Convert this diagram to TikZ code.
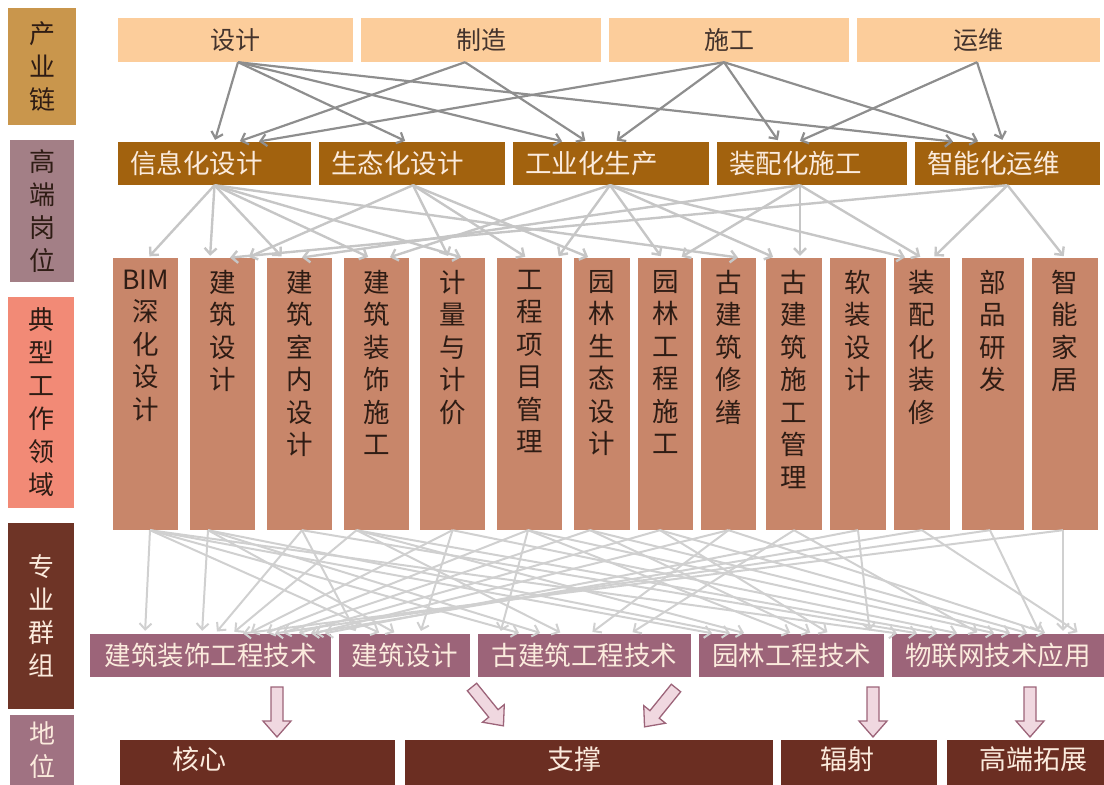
\documentclass[tikz,border=0pt]{standalone}
\usepackage{fontspec}
\newfontfamily\cjk{Noto Sans CJK SC}
\usetikzlibrary{positioning,arrows.meta}

\definecolor{peach}{HTML}{FCCD9B}
\definecolor{ochre}{HTML}{A2620E}
\definecolor{terra}{HTML}{C8866A}
\definecolor{mauve}{HTML}{9C6479}
\definecolor{maroon}{HTML}{6B2E22}
\definecolor{gold}{HTML}{C9964C}
\definecolor{greymauve}{HTML}{A37F86}
\definecolor{salmon}{HTML}{F28A76}
\definecolor{cocoa}{HTML}{6E3426}
\definecolor{lilac}{HTML}{A07282}
\definecolor{ink}{HTML}{2E1C14}
\definecolor{cream}{HTML}{FBEBDD}
\definecolor{pinkfill}{HTML}{F0D8E0}
\definecolor{darkline}{HTML}{8E8E8E}
\definecolor{paleline}{HTML}{C6C6C6}
\definecolor{faintline}{HTML}{D0D0D0}

\tikzset{
  sidebox/.style={fill=#1, inner sep=0pt, minimum width=66pt, align=center, text=ink, font=\cjk\fontsize{26}{33}\selectfont},
  chainbox/.style={fill=peach, minimum height=44pt, inner sep=0pt, text=ink!90, font=\cjk\fontsize{25}{28}\selectfont},
  postbox/.style={fill=ochre, minimum height=43pt, inner xsep=12pt, inner ysep=0pt, align=left, text=cream, font=\cjk\fontsize{26.5}{28}\selectfont},
  fieldbox/.style={fill=terra, minimum height=272pt, inner sep=0pt},
  fieldtext/.style={align=center, inner sep=0pt, text=ink, font=\cjk\fontsize{26.5}{32.5}\selectfont},
  groupbox/.style={fill=mauve, minimum height=43pt, inner sep=0pt, text=cream, font=\cjk\fontsize{26.5}{28}\selectfont},
  rankbox/.style={fill=maroon, minimum height=45pt, inner sep=0pt},
  ranktext/.style={inner sep=0pt, text=cream, font=\cjk\fontsize{27}{28}\selectfont},
  chainarrow/.style={draw=darkline, line width=2.2pt, shorten >=2pt, -{Straight Barb[length=6pt,width=12pt]}},
  postarrow/.style={draw=paleline, line width=2.4pt, shorten >=2pt, -{Straight Barb[length=6pt,width=12pt]}},
  fieldarrow/.style={draw=faintline, line width=2pt, shorten >=3pt, -{Straight Barb[length=6pt,width=12pt]}},
  blockarrow/.pic={\draw[fill=pinkfill, draw=mauve, line width=1.3pt] (-6,0) -- (-6,34) -- (-14,34) -- (0,50) -- (14,34) -- (6,34) -- (6,0) -- cycle;}
}

\begin{document}
\begin{tikzpicture}[x=1pt, y=-1pt]
    \useasboundingbox (0,0) rectangle (1104,785);

    \node[sidebox=gold, minimum width=68pt, minimum height=117pt] (s1) at (42,66.5) {产\\业\\链};
    \node[sidebox=greymauve, minimum width=64pt, minimum height=142pt] (s2) at (42,211) {高\\端\\岗\\位};
    \node[sidebox=salmon, minimum height=211pt] (s3) at (41,402.5) {典\\型\\工\\作\\领\\域};
    \node[sidebox=cocoa, minimum height=186pt, text=cream] (s4) at (41,616) {专\\业\\群\\组};
    \node[sidebox=lilac, minimum width=64pt, minimum height=70pt, text=cream] (s5) at (42,750) {地\\位};

    \node[chainbox, minimum width=235pt] (c1) at (235.5,40) {设计};
    \node[chainbox, minimum width=240pt] (c2) at (481,40) {制造};
    \node[chainbox, minimum width=240pt] (c3) at (729,40) {施工};
    \node[chainbox, minimum width=243pt] (c4) at (978.5,40) {运维};

    \node[postbox, text width=169pt] (h1) at (214.5,163.5) {信息化设计};
    \node[postbox, text width=162pt] (h2) at (412,163.5) {生态化设计};
    \node[postbox, text width=172pt] (h3) at (611,163.5) {工业化生产};
    \node[postbox, text width=166pt] (h4) at (812,163.5) {装配化施工};
    \node[postbox, text width=161pt] (h5) at (1007.5,163.5) {智能化运维};

    \node[fieldbox, minimum width=65pt] (f1) at (145.5,394) {};
    \node[fieldbox, minimum width=65pt] (f2) at (222.5,394) {};
    \node[fieldbox, minimum width=65pt] (f3) at (299.5,394) {};
    \node[fieldbox, minimum width=65pt] (f4) at (376.5,394) {};
    \node[fieldbox, minimum width=65pt] (f5) at (452.5,394) {};
    \node[fieldbox, minimum width=65pt] (f6) at (529.5,394) {};
    \node[fieldbox, minimum width=56pt] (f7) at (602,394) {};
    \node[fieldbox, minimum width=55pt] (f8) at (665.5,394) {};
    \node[fieldbox, minimum width=55pt] (f9) at (728.5,394) {};
    \node[fieldbox, minimum width=56pt] (f10) at (794,394) {};
    \node[fieldbox, minimum width=56pt] (f11) at (858,394) {};
    \node[fieldbox, minimum width=56pt] (f12) at (922,394) {};
    \node[fieldbox, minimum width=62pt] (f13) at (993,394) {};
    \node[fieldbox, minimum width=66pt] (f14) at (1065,394) {};

    \node[fieldtext, below=12pt of f1.north] (w1) {BIM\\深\\化\\设\\计};
    \node[fieldtext, below=12pt of f2.north] (w2) {建\\筑\\设\\计};
    \node[fieldtext, below=12pt of f3.north] (w3) {建\\筑\\室\\内\\设\\计};
    \node[fieldtext, below=12pt of f4.north] (w4) {建\\筑\\装\\饰\\施\\工};
    \node[fieldtext, below=12pt of f5.north] (w5) {计\\量\\与\\计\\价};
    \node[fieldtext, below=12pt of f6.north] (w6) {工\\程\\项\\目\\管\\理};
    \node[fieldtext, below=12pt of f7.north] (w7) {园\\林\\生\\态\\设\\计};
    \node[fieldtext, below=12pt of f8.north] (w8) {园\\林\\工\\程\\施\\工};
    \node[fieldtext, below=12pt of f9.north] (w9) {古\\建\\筑\\修\\缮};
    \node[fieldtext, below=12pt of f10.north] (w10) {古\\建\\筑\\施\\工\\管\\理};
    \node[fieldtext, below=12pt of f11.north] (w11) {软\\装\\设\\计};
    \node[fieldtext, below=12pt of f12.north] (w12) {装\\配\\化\\装\\修};
    \node[fieldtext, below=12pt of f13.north] (w13) {部\\品\\研\\发};
    \node[fieldtext, below=12pt of f14.north] (w14) {智\\能\\家\\居};

    \node[groupbox, minimum width=241pt] (g1) at (210.5,655.5) {建筑装饰工程技术};
    \node[groupbox, minimum width=131pt] (g2) at (404.5,655.5) {建筑设计};
    \node[groupbox, minimum width=213pt] (g3) at (584.5,655.5) {古建筑工程技术};
    \node[groupbox, minimum width=185pt] (g4) at (791.5,655.5) {园林工程技术};
    \node[groupbox, minimum width=212pt] (g5) at (998,655.5) {物联网技术应用};

    \node[rankbox, minimum width=275pt] (r1) at (257.5,762.5) {};
    \node[rankbox, minimum width=368pt] (r2) at (589,762.5) {};
    \node[rankbox, minimum width=156pt] (r3) at (859,762.5) {};
    \node[rankbox, minimum width=157pt] (r4) at (1025.5,762.5) {};
    \node[ranktext, right=52pt of r1.west, yshift=3pt] (t1) {核心};
    \node[ranktext, right=142pt of r2.west, yshift=3pt] (t2) {支撑};
    \node[ranktext, right=39pt of r3.west, yshift=3pt] (t3) {辐射};
    \node[ranktext, right=32pt of r4.west, yshift=3pt] (t4) {高端拓展};

    \draw[chainarrow] ([xshift=2.5pt]c1.south) -- (h1.north);
    \draw[chainarrow] ([xshift=2.5pt]c1.south) -- ([xshift=-5pt]h2.north);
    \draw[chainarrow] ([xshift=2.5pt]c1.south) -- ([xshift=-47pt]h3.north);
    \draw[chainarrow] ([xshift=2.5pt]c1.south) -- ([xshift=-52.5pt]h5.north);
    \draw[chainarrow] ([xshift=-16pt]c2.south) -- ([xshift=23.5pt]h1.north);
    \draw[chainarrow] ([xshift=-16pt]c2.south) -- ([xshift=-24pt]h3.north);
    \draw[chainarrow] ([xshift=-5pt]c3.south) -- ([xshift=42.5pt]h1.north);
    \draw[chainarrow] ([xshift=-5pt]c3.south) -- ([xshift=4pt]h3.north);
    \draw[chainarrow] ([xshift=-5pt]c3.south) -- ([xshift=-33pt]h4.north);
    \draw[chainarrow] ([xshift=-5pt]c3.south) -- ([xshift=-27.5pt]h5.north);
    \draw[chainarrow] ([xshift=-1.5pt]c4.south) -- ([xshift=-14pt]h4.north);
    \draw[chainarrow] ([xshift=-1.5pt]c4.south) -- ([xshift=-4.5pt]h5.north);

    \draw[postarrow] (h1.south) -- ([xshift=2.5pt]f1.north);
    \draw[postarrow] (h1.south) -- ([xshift=-12.5pt]f2.north);
    \draw[postarrow] (h1.south) -- ([xshift=-16.5pt]f3.north);
    \draw[postarrow] (h1.south) -- ([xshift=-6.5pt]f4.north);
    \draw[postarrow] (h1.south) -- ([xshift=10.5pt]f5.north);
    \draw[postarrow] (h1.south) -- ([xshift=11.5pt]f9.north);
    \draw[postarrow] ([xshift=1pt]h2.south) -- ([xshift=24.5pt]f2.north);
    \draw[postarrow] ([xshift=1pt]h2.south) -- ([xshift=-3.5pt]f5.north);
    \draw[postarrow] ([xshift=1pt]h2.south) -- ([xshift=-2.5pt]f6.north);
    \draw[postarrow] ([xshift=1pt]h2.south) -- ([xshift=-12pt]f7.north);
    \draw[postarrow] ([xshift=-1pt]h3.south) -- ([xshift=11.5pt]f4.north);
    \draw[postarrow] ([xshift=-1pt]h3.south) -- ([xshift=28pt]f6.north);
    \draw[postarrow] ([xshift=-1pt]h3.south) -- ([xshift=-3.5pt]f8.north);
    \draw[postarrow] ([xshift=-1pt]h3.south) -- ([xshift=-19pt]f10.north);
    \draw[postarrow] ([xshift=-1pt]h3.south) -- ([xshift=-15pt]f12.north);
    \draw[postarrow] ([xshift=-12pt]h4.south) -- ([xshift=0.5pt]f3.north);
    \draw[postarrow] ([xshift=-12pt]h4.south) -- ([xshift=14.5pt]f8.north);
    \draw[postarrow] ([xshift=-12pt]h4.south) -- ([xshift=6pt]f10.north);
    \draw[postarrow] ([xshift=-12pt]h4.south) -- (f12.north);
    \draw[postarrow] (h5.south) -- ([xshift=5.5pt]f2.north);
    \draw[postarrow] (h5.south) -- ([xshift=11pt]f12.north);
    \draw[postarrow] (h5.south) -- (f14.north);

    \draw[fieldarrow] ([xshift=4.5pt]f1.south) -- ([xshift=-65.5pt]g1.north);
    \draw[fieldarrow] ([xshift=4.5pt]f1.south) -- ([xshift=-22.5pt]g2.north);
    \draw[fieldarrow] ([xshift=4.5pt]f1.south) -- ([xshift=-62.5pt]g3.north);
    \draw[fieldarrow] ([xshift=4.5pt]f1.south) -- ([xshift=-76.5pt]g4.north);
    \draw[fieldarrow] ([xshift=4.5pt]f1.south) -- ([xshift=-98pt]g5.north);
    \draw[fieldarrow] ([xshift=-14.5pt]f2.south) -- ([xshift=-8.5pt]g1.north);
    \draw[fieldarrow] ([xshift=-14.5pt]f2.south) -- ([xshift=-7.5pt]g2.north);
    \draw[fieldarrow] ([xshift=-14.5pt]f2.south) -- ([xshift=-41.5pt]g3.north);
    \draw[fieldarrow] ([xshift=-14.5pt]f2.south) -- ([xshift=-58.5pt]g4.north);
    \draw[fieldarrow] ([xshift=2.5pt]f3.south) -- ([xshift=4.5pt]g1.north);
    \draw[fieldarrow] ([xshift=2.5pt]f3.south) -- ([xshift=-47.5pt]g2.north);
    \draw[fieldarrow] ([xshift=2.5pt]f3.south) -- ([xshift=-78pt]g5.north);
    \draw[fieldarrow] ([xshift=-20pt]f4.south) -- ([xshift=21.5pt]g1.north);
    \draw[fieldarrow] ([xshift=-20pt]f4.south) -- ([xshift=-21.5pt]g3.north);
    \draw[fieldarrow] ([xshift=-20pt]f4.south) -- ([xshift=-44.5pt]g4.north);
    \draw[fieldarrow] ([xshift=-20pt]f4.south) -- ([xshift=-58pt]g5.north);
    \draw[fieldarrow] (f5.south) -- ([xshift=37.5pt]g1.north);
    \draw[fieldarrow] (f5.south) -- ([xshift=15.5pt]g2.north);
    \draw[fieldarrow] (f5.south) -- ([xshift=-38pt]g5.north);
    \draw[fieldarrow] ([xshift=-1.5pt]f6.south) -- ([xshift=53.5pt]g1.north);
    \draw[fieldarrow] ([xshift=-1.5pt]f6.south) -- ([xshift=-84.5pt]g3.north);
    \draw[fieldarrow] ([xshift=-1.5pt]f6.south) -- ([xshift=1.5pt]g4.north);
    \draw[fieldarrow] ([xshift=-1.5pt]f6.south) -- ([xshift=-1pt]g5.north);
    \draw[fieldarrow] ([xshift=-12pt]f7.south) -- ([xshift=69.5pt]g1.north);
    \draw[fieldarrow] ([xshift=-12pt]f7.south) -- ([xshift=21.5pt]g4.north);
    \draw[fieldarrow] ([xshift=-12pt]f7.south) -- ([xshift=15pt]g5.north);
    \draw[fieldarrow] ([xshift=-5.5pt]f8.south) -- ([xshift=85.5pt]g1.north);
    \draw[fieldarrow] ([xshift=-5.5pt]f8.south) -- ([xshift=38.5pt]g4.north);
    \draw[fieldarrow] ([xshift=-5.5pt]f8.south) -- ([xshift=32pt]g5.north);
    \draw[fieldarrow] (f9.south) -- ([xshift=101.5pt]g1.north);
    \draw[fieldarrow] (f9.south) -- ([xshift=5.5pt]g3.north);
    \draw[fieldarrow] (f9.south) -- ([xshift=50pt]g5.north);
    \draw[fieldarrow] (f10.south) -- ([xshift=45.5pt]g3.north);
    \draw[fieldarrow] (f10.south) -- ([xshift=-18pt]g5.north);
    \draw[fieldarrow] (f11.south) -- ([xshift=111.5pt]g1.north);
    \draw[fieldarrow] (f11.south) -- ([xshift=78.5pt]g4.north);
    \draw[fieldarrow] (f12.south) -- ([xshift=97.5pt]g1.north);
    \draw[fieldarrow] (f12.south) -- ([xshift=82pt]g5.north);
    \draw[fieldarrow] ([xshift=-3pt]f13.south) -- ([xshift=61.5pt]g1.north);
    \draw[fieldarrow] ([xshift=-3pt]f13.south) -- ([xshift=42pt]g5.north);
    \draw[fieldarrow] ([xshift=-2pt]f14.south) -- ([xshift=65pt]g5.north);
    \draw[fieldarrow] ([xshift=-2pt]f14.south) -- ([xshift=29.5pt]g1.north);

    \pic at (277,687) {blockarrow};
    \pic[rotate=39] at (472,687) {blockarrow};
    \pic[rotate=-39] at (676,688) {blockarrow};
    \pic at (873,687) {blockarrow};
    \pic at (1030,687) {blockarrow};
\end{tikzpicture}
\end{document}
